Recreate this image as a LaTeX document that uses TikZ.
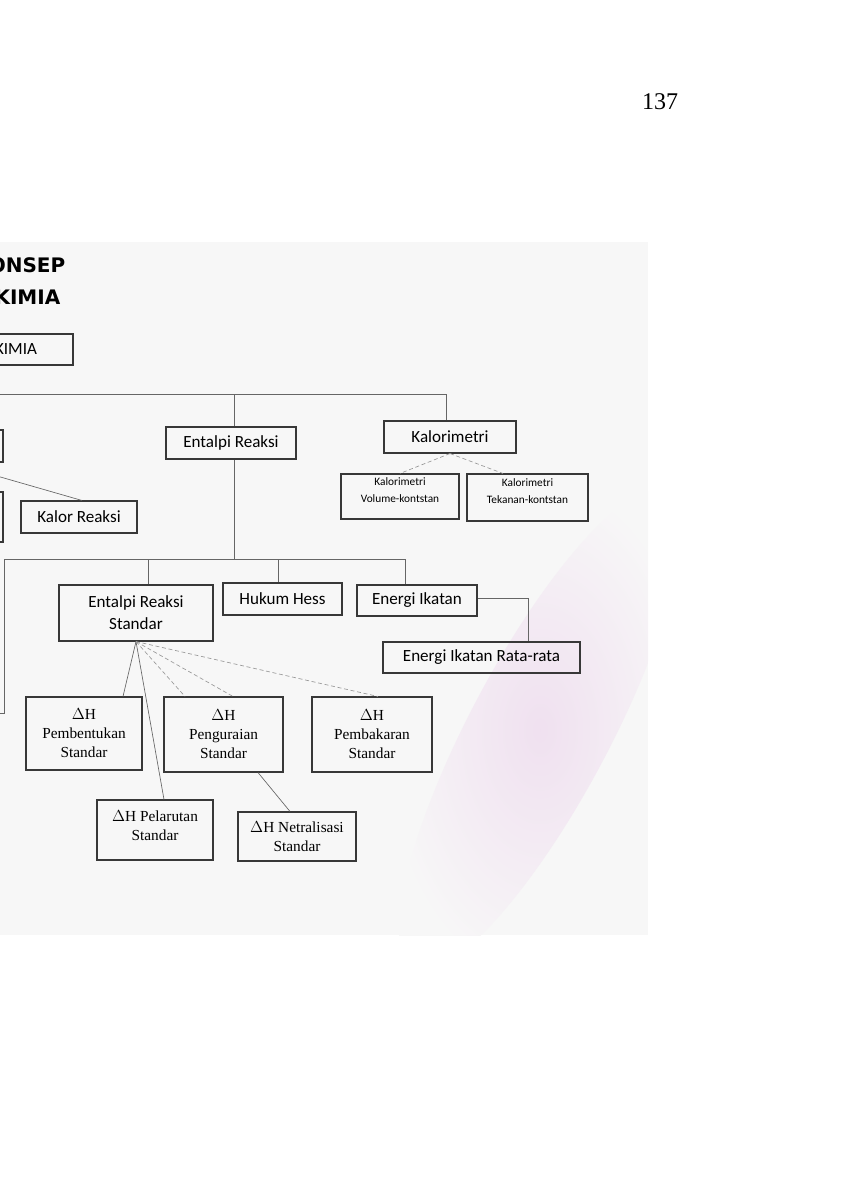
\documentclass[tikz,border=0pt]{standalone}
\usepackage{fontspec}
\setmainfont{Liberation Serif}
\newfontfamily\calibri{Carlito}
\newfontfamily\dejavu{DejaVu Sans}
\usetikzlibrary{positioning}

\begin{document}
\begin{tikzpicture}[x=0.75pt, y=-0.75pt,
    box/.style={draw=black!78, line width=0.8pt, align=center, inner sep=0pt,
      font=\calibri\fontsize{12.8}{16.5}\selectfont},
    smallbox/.style={box, font=\calibri\fontsize{8.5}{12.5}\selectfont},
    dhbox/.style={box, font=\fontsize{11.5}{14.3}\selectfont},
    link/.style={draw=black!60, line width=0.5pt},
    faint/.style={draw=black!40, line width=0.5pt, densely dashed}]
  \useasboundingbox (0,0) rectangle (848,1200);
  \node[font=\fontsize{18}{20}\selectfont, anchor=base] (hal) at (660,109) {137};
  \begin{scope}
    \clip (0,242) rectangle (648,935);
    \fill[black!3] (0,242) rectangle (648,935);
    \shade[inner color=violet!12, outer color=black!3, rotate around={62:(540,730)}]
      (540,730) ellipse (270 and 70);
    \node[font=\dejavu\bfseries\fontsize{15}{18}\selectfont, anchor=base east] (judul1) at (70,272) {ONSEP};
    \node[font=\dejavu\bfseries\fontsize{15}{18}\selectfont, anchor=base east] (judul2) at (65,304) {KIMIA};

    \node[box, minimum width=85.5pt, minimum height=23.25pt] (kimia) at (16,349.5) {KIMIA};
    \node[box, minimum width=64.5pt, minimum height=24pt] (kiri1) at (-40,446) {};
    \node[box, minimum width=64.5pt, minimum height=37.5pt] (kiri2) at (-40,517) {};
    \node[box, minimum width=87pt, minimum height=24pt] (kalor) at (79,517) {Kalor Reaksi};
    \node[box, minimum width=97.5pt, minimum height=24pt] (entalpi) at (231,443) {Entalpi Reaksi};
    \node[box, minimum width=99pt, minimum height=24pt] (kalori) at (450,437) {Kalorimetri};
    \node[smallbox, minimum width=88.5pt, minimum height=33.75pt] (kvol) at (400,496.5) {Kalorimetri\\Volume-kontstan\\[-3pt]};
    \node[smallbox, minimum width=90.75pt, minimum height=35.25pt] (ktek) at (527.5,497.5) {Kalorimetri\\Tekanan-kontstan\\[-3pt]};
    \node[box, minimum width=115.5pt, minimum height=42pt] (standar) at (136,613) {Entalpi Reaksi\\Standar};
    \node[box, minimum width=89.25pt, minimum height=24pt] (hess) at (282.5,599) {Hukum Hess};
    \node[box, minimum width=90pt, minimum height=23.25pt] (ikatan) at (417,600.5) {Energi Ikatan};
    \node[box, minimum width=147.75pt, minimum height=23.25pt] (rata) at (481.5,657.5) {Energi Ikatan Rata-rata};
    \node[dhbox, minimum width=87pt, minimum height=54.75pt] (bentuk) at (84,733.5) {$\Delta$H\\Pembentukan\\Standar};
    \node[dhbox, minimum width=89.25pt, minimum height=56.25pt] (urai) at (223.5,734.5) {$\Delta$H\\Penguraian\\Standar};
    \node[dhbox, minimum width=90pt, minimum height=56.25pt] (bakar) at (372,734.5) {$\Delta$H\\Pembakaran\\Standar};
    \node[dhbox, minimum width=87pt, minimum height=45pt] (larut) at (155,830) {$\Delta$H Pelarutan\\Standar\\[-7.5pt]};
    \node[dhbox, minimum width=88.5pt, minimum height=36.75pt] (netral) at (297,836.5) {$\Delta$H Netralisasi\\Standar};

    \coordinate (busA) at (-10,394);
    \coordinate (busB) at (446,394);
    \coordinate (busC) at (234,394);
    \coordinate (busD) at (234,559);
    \coordinate (busE) at (4,559);
    \coordinate (busF) at (405,559);
    \coordinate (ujung) at (-10,713);
    \coordinate (ujungkalor) at (-10,474);
    \coordinate (belok) at (528,598);

    \draw[link] (busA) -- (busB) -- (busB |- kalori.north);
    \draw[link] (busC) -- (busC |- entalpi.north);
    \draw[link] (busC |- entalpi.south) -- (busD);
    \draw[link] (ujung) -- (4,713) -- (busE) -- (busF) -- (busF |- ikatan.north);
    \draw[link] (148,559) -- (148,0 |- standar.north);
    \draw[link] (278,559) -- (278,0 |- hess.north);
    \draw[link] (ujungkalor) -- (82,0 |- kalor.north);
    \draw[link] (ikatan.east |- belok) -- (belok) -- (belok |- rata.north);
    \draw[faint] (kalori.south) -- (kvol.north);
    \draw[faint] (kalori.south) -- (503,0 |- ktek.north);

    \draw[link] (standar.south) -- (123,0 |- bentuk.north);
    \draw[link] (standar.south) -- (164,0 |- larut.north);
    \draw[faint] (standar.south) -- (185,0 |- urai.north);
    \draw[faint] (standar.south) -- (233,0 |- urai.north);
    \draw[faint] (standar.south) -- (378,0 |- bakar.north);
    \draw[link] (258,0 |- urai.south) -- (290,0 |- netral.north);
  \end{scope}
\end{tikzpicture}
\end{document}
